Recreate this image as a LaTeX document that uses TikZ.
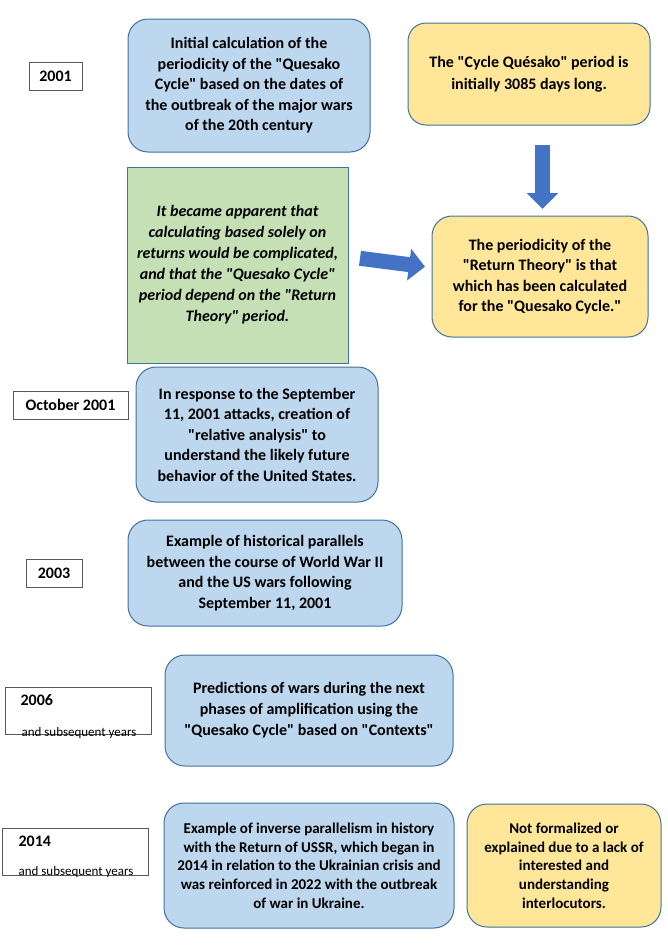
\documentclass[tikz,border=0pt]{standalone}
\usepackage{fontspec}
\setmainfont{Carlito}[Ligatures=TeXOff]
\usepackage{xcolor}
\usepackage{tikz}
\usetikzlibrary{arrows.meta}

\definecolor{boxblue}{HTML}{BDD7EE}
\definecolor{boxyellow}{HTML}{FFE699}
\definecolor{boxgreen}{HTML}{C5E0B4}
\definecolor{boxline}{HTML}{41719C}
\definecolor{arrowblue}{HTML}{4472C4}

\begin{document}
\begin{tikzpicture}[x=1pt, y=-1pt,
    box/.style={draw=boxline, line width=1pt, rounded corners=20pt, align=center,
      inner sep=0pt, font=\bfseries\fontsize{16}{20.5}\selectfont},
    bluebox/.style={box, fill=boxblue},
    yellowbox/.style={box, fill=boxyellow},
    yearbox/.style={draw=black!65, line width=0.8pt, inner sep=0pt,
      font=\bfseries\fontsize{16}{20}\selectfont},
    blockarrow/.style={arrowblue, line width=15pt, -{Triangle[width=31pt,length=16pt]}}]
          \useasboundingbox (0,0) rectangle (667,945);

          % years
          \node[yearbox, minimum width=53pt, minimum height=28pt] (Y1) at (55.5,76) {2001};
          \node[yearbox, minimum width=115pt, minimum height=28pt] (Y2) at (70.5,405) {October 2001};
          \node[yearbox, minimum width=56pt, minimum height=28pt] (Y3) at (54,573) {2003};
          \node[yearbox, minimum width=146pt, minimum height=47pt] (Y4) at (78,710.5) {};
          \node[yearbox, minimum width=146pt, minimum height=47pt] (Y5) at (75,851.5) {};
          \node[anchor=base west, font=\bfseries\fontsize{16}{20}\selectfont] (Y4a) at (17,705) {2006};
          \node[anchor=base west, font=\fontsize{13}{15}\selectfont] (Y4b) at (18,736) {and subsequent years};
          \node[anchor=base west, font=\bfseries\fontsize{16}{20}\selectfont] (Y5a) at (15,846.5) {2014};
          \node[anchor=base west, font=\fontsize{13}{15}\selectfont] (Y5b) at (15,875) {and subsequent years};

          % events
          \node[bluebox, minimum width=242pt, minimum height=133pt] (E1) at (249,85.5)
            {Initial calculation of the\\periodicity of the "Quesako\\Cycle" based on the dates of\\the outbreak of the major wars\\of the 20th century};
          \node[yellowbox, rounded corners=18pt, font=\bfseries\fontsize{16}{21.5}\selectfont,
            minimum width=242pt, minimum height=102pt] (Q1) at (529,74)
            {The "Cycle Quésako" period is\\initially 3085 days long.};
          \node[draw=boxline, fill=boxgreen, line width=1pt, align=center, inner sep=0pt,
            font=\bfseries\itshape\fontsize{16}{21}\selectfont,
            minimum width=221pt, minimum height=196pt] (G) at (237.5,265)
            {It became apparent that\\calculating based solely on\\returns would be complicated,\\and that the "Quesako Cycle"\\period depend on the "Return\\Theory" period.};
          \node[yellowbox, minimum width=216pt, minimum height=121pt] (Q2) at (540,276.5)
            {The periodicity of the\\"Return Theory" is that\\which has been calculated\\for the "Quesako Cycle."};
          \node[bluebox, minimum width=242pt, minimum height=135pt] (E2) at (257,434.5)
            {In response to the September\\11, 2001 attacks, creation of\\"relative analysis" to\\understand the likely future\\behavior of the United States.};
          \node[bluebox, minimum width=274pt, minimum height=106pt] (E3) at (265,573)
            {Example of historical parallels\\between the course of World War II\\and the US wars following\\September 11, 2001};
          \node[bluebox, font=\bfseries\fontsize{16}{21}\selectfont,
            minimum width=288pt, minimum height=111pt] (E4) at (309,710.5)
            {Predictions of wars during the next\\phases of amplification using the\\"Quesako Cycle" based on "Contexts"};
          \node[bluebox, font=\bfseries\fontsize{15}{18.7}\selectfont,
            minimum width=290pt, minimum height=125pt] (E5) at (309,865.5)
            {Example of inverse parallelism in history\\with the Return of USSR, which began in\\2014 in relation to the Ukrainian crisis and\\was reinforced in 2022 with the outbreak\\of war in Ukraine.};
          \node[yellowbox, font=\bfseries\fontsize{15}{18.7}\selectfont,
            minimum width=194pt, minimum height=123pt] (Q3) at (564,865.5)
            {Not formalized or\\explained due to a lack of\\interested and\\understanding\\interlocutors.};

          \coordinate (A1) at (542.5,145);
          \coordinate (A2) at (542.5,209);
          \coordinate (B1) at (360,258.3);
          \coordinate (B2) at (425,266.7);
          \draw[blockarrow] (A1) -- (A2);
          \draw[blockarrow] (B1) -- (B2);
        \end{tikzpicture}
\end{document}
